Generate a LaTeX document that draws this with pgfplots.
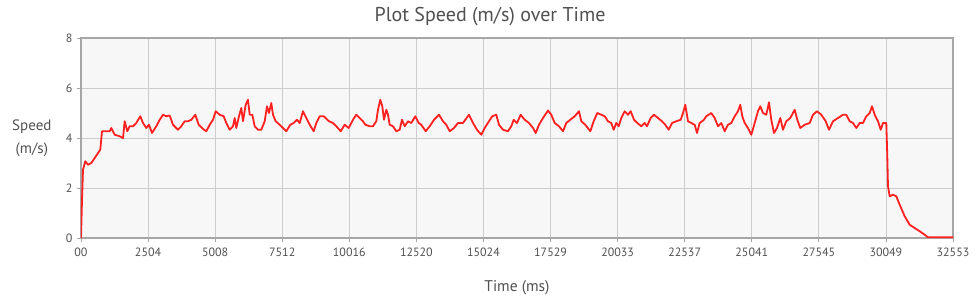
\documentclass[border=0pt]{standalone}
\usepackage{fontspec}
\setmainfont{PT Sans}
\usepackage{pgfplots}
\pgfplotsset{compat=1.18}
\definecolor{txt}{HTML}{505050}
\definecolor{gridc}{HTML}{CCCCCC}
\definecolor{axc}{HTML}{A6A6A6}
\definecolor{bgc}{HTML}{F7F7F7}
\definecolor{linec}{HTML}{FF2020}
\begin{document}
\begin{tikzpicture}
\useasboundingbox (-81pt,-60pt) rectangle (899pt,238pt);
\begin{axis}[
  at={(0pt,0pt)}, anchor=south west,
  scale only axis, width=872pt, height=200pt,
  xmin=0, xmax=32553, ymin=0, ymax=8,
  scaled x ticks=false, scaled y ticks=false,
  xtick={0,2504,5008,7512,10016,12520,15024,17529,20033,22537,25041,27545,30049,32553},
  xticklabels={00,2504,5008,7512,10016,12520,15024,17529,20033,22537,25041,27545,30049,32553},
  ytick={0,2,4,6,8},
  grid=major, grid style={gridc, line width=0.8pt},
  axis background/.style={fill=bgc},
  axis line style={axc, line width=1.6pt},
  tick style={axc, line width=0.8pt}, tick align=outside, major tick length=4pt,
  tick pos=left,
  /pgf/number format/assume math mode=true,
  ticklabel style={font=\fontsize{12}{14}\selectfont, text=txt},
  xticklabel style={yshift=-2pt},
  yticklabel style={xshift=-1pt},
  title={Plot Speed (m/s) over Time},
  title style={font=\fontsize{20}{24}\selectfont, text=txt, at={(axis description cs:0.5,1)}, anchor=center, xshift=-27pt, yshift=15pt},
  xlabel={Time (ms)},
  xlabel style={font=\fontsize{15.5}{18}\selectfont, text=txt, at={(axis description cs:0.5,0)}, anchor=center, yshift=-50pt, xshift=0pt},
  ylabel={Speed\\(m/s)},
  every axis y label/.style={font=\fontsize{15}{23}\selectfont, text=txt, at={(axis description cs:0,0.5)}, anchor=east, xshift=-26pt, rotate=0, align=center},
]
\addplot[linec, line width=1.8pt, line join=round] coordinates {
(0,0) (40,1.6) (75,2.73) (161,3.07) (261,2.93) (385,3.0) (511,3.2) (635,3.4) (720,3.53) (784,4.27)
(885,4.27) (1071,4.27) (1131,4.4) (1258,4.13) (1445,4.07) (1568,4.0) (1631,4.67) (1728,4.27) (1818,4.47) (1941,4.47)
(2064,4.6) (2214,4.87) (2315,4.6) (2438,4.4) (2538,4.53) (2650,4.2) (2811,4.47) (2938,4.73) (3061,4.93) (3184,4.87)
(3311,4.9) (3434,4.53) (3621,4.33) (3744,4.47) (3871,4.67) (3994,4.67) (4118,4.73) (4267,4.93) (4394,4.53) (4592,4.33)
(4678,4.27) (4804,4.53) (4928,4.73) (5028,5.07) (5178,4.93) (5327,4.87) (5424,4.6) (5551,4.33) (5674,4.47) (5738,4.8)
(5797,4.4) (5898,4.87) (5984,5.2) (6048,4.67) (6148,5.33) (6234,5.53) (6298,4.93) (6395,4.93) (6484,4.47) (6608,4.33)
(6731,4.33) (6858,4.67) (6944,5.27) (7018,5.0) (7104,5.4) (7168,4.93) (7268,4.67) (7418,4.53) (7541,4.4) (7664,4.27)
(7813,4.53) (7940,4.6) (8064,4.73) (8164,4.6) (8287,5.07) (8411,4.8) (8538,4.53) (8687,4.27) (8784,4.6) (8911,4.87)
(9060,4.87) (9258,4.67) (9407,4.6) (9531,4.47) (9695,4.27) (9844,4.53) (9993,4.4) (10154,4.73) (10277,4.93) (10404,4.8)
(10527,4.67) (10613,4.53) (10777,4.47) (10901,4.47) (11024,4.67) (11087,5.13) (11173,5.53) (11248,5.27) (11311,4.73) (11397,5.13)
(11461,4.93) (11524,4.53) (11647,4.47) (11770,4.27) (11897,4.33) (11983,4.73) (12084,4.47) (12207,4.67) (12330,4.6) (12480,4.87)
(12607,4.6) (12704,4.53) (12868,4.27) (13017,4.47) (13178,4.73) (13365,4.93) (13514,4.67) (13637,4.53) (13764,4.27) (13924,4.4)
(14074,4.6) (14260,4.6) (14484,4.93) (14634,4.6) (14783,4.33) (14944,4.13) (15071,4.4) (15231,4.67) (15354,4.87) (15504,4.93)
(15604,4.53) (15754,4.33) (15940,4.27) (16063,4.47) (16153,4.73) (16276,4.6) (16414,4.93) (16564,4.73) (16724,4.6) (16874,4.4)
(16974,4.2) (17098,4.53) (17247,4.8) (17434,5.1) (17557,4.93) (17684,4.6) (17844,4.47) (17994,4.27) (18117,4.6) (18266,4.73)
(18430,4.87) (18591,5.07) (18677,4.67) (18826,4.53) (19013,4.27) (19139,4.67) (19274,5.0) (19423,4.93) (19550,4.87) (19673,4.67)
(19797,4.6) (19886,4.33) (19983,4.6) (20073,4.47) (20170,4.8) (20297,5.07) (20420,4.93) (20521,5.07) (20644,4.73) (20767,4.6)
(20917,4.47) (21043,4.6) (21129,4.47) (21267,4.8) (21391,4.93) (21540,4.8) (21689,4.67) (21813,4.53) (21939,4.33) (22063,4.6)
(22223,4.67) (22387,4.73) (22473,5.0) (22559,5.33) (22660,4.67) (22783,4.6) (22910,4.53) (22996,4.2) (23096,4.6) (23257,4.73)
(23343,4.87) (23530,5.0) (23656,4.8) (23780,4.47) (23903,4.6) (24030,4.27) (24153,4.53) (24276,4.6) (24403,4.87) (24526,5.07)
(24612,5.33) (24687,4.87) (24776,4.6) (24899,4.4) (25023,4.13) (25150,4.6) (25273,5.07) (25359,5.27) (25460,5.0) (25583,4.93)
(25684,5.43) (25769,4.73) (25871,4.2) (25982,4.4) (26106,4.8) (26206,4.33) (26329,4.67) (26479,4.8) (26643,5.13) (26740,4.73)
(26852,4.4) (27016,4.53) (27203,4.6) (27326,4.93) (27476,5.07) (27637,4.93) (27800,4.67) (27924,4.33) (28073,4.67) (28260,4.8)
(28446,4.93) (28569,4.93) (28696,4.67) (28820,4.6) (28943,4.4) (29070,4.6) (29193,4.6) (29316,4.87) (29443,5.0) (29529,5.27)
(29630,4.93) (29753,4.67) (29854,4.33) (29939,4.6) (30063,4.6) (30100,3.27) (30126,2.07) (30190,1.67) (30313,1.73) (30436,1.67)
(30563,1.33) (30749,0.87) (30936,0.53) (31122,0.4) (31309,0.27) (31496,0.13) (31619,0.03) (32553,0.03)
};
\end{axis}
\end{tikzpicture}
\end{document}
